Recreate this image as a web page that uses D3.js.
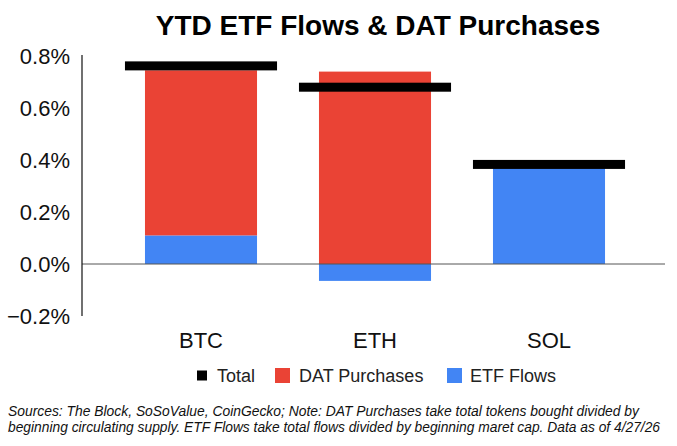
<!DOCTYPE html>
<html>
<head>
<meta charset="utf-8">
<script src="https://cdn.jsdelivr.net/npm/d3@7"></script>
<style>
  html, body { margin: 0; padding: 0; background: #fff; }
  svg { display: block; font-family: "Liberation Sans", Arial, sans-serif; }
</style>
</head>
<body>
<svg id="chart" width="677" height="446"></svg>
<script>
// ---- data ----
const categories = ["BTC", "ETH", "SOL"];
const datPurchases = [0.635, 0.74, 0.0];
const etfFlows = [0.11, -0.065, 0.37];
const totals = [0.762, 0.68, 0.383];
const yTicks = [-0.2, 0.0, 0.2, 0.4, 0.6, 0.8];
const legendLabels = ["Total", "DAT Purchases", "ETF Flows"];
const titleText = "YTD ETF Flows & DAT Purchases";
const footnoteLines = [
  "Sources: The Block, SoSoValue, CoinGecko; Note: DAT Purchases take total tokens bought divided by",
  "beginning circulating supply. ETF Flows take total flows divided by beginning maret cap. Data as of 4/27/26"
];

const colors = { total: "#000000", dat: "#EA4335", etf: "#4285F4" };

const svg = d3.select("#chart");

const rows = categories.map((c, i) => ({ cat: c, etf: etfFlows[i], dat: datPurchases[i], total: totals[i] }));

const x = d3.scaleBand().domain(categories).range([114, 636]).paddingInner(0.356).paddingOuter(0.178);
const y = d3.scaleLinear().domain([-0.2, 0.8]).range([316, 56]);

// title
svg.append("text")
  .attr("x", 378).attr("y", 35)
  .attr("text-anchor", "middle")
  .attr("font-size", 28).attr("font-weight", "bold")
  .attr("fill", "#000")
  .text(titleText);

// stacked bars
const stack = d3.stack().keys(["etf", "dat"]).offset(d3.stackOffsetDiverging);
const series = stack(rows);
const colorFor = { etf: colors.etf, dat: colors.dat };

svg.append("g").selectAll("g")
  .data(series).join("g")
  .attr("fill", d => colorFor[d.key])
  .selectAll("rect")
  .data(d => d).join("rect")
  .attr("x", d => x(d.data.cat))
  .attr("width", x.bandwidth())
  .attr("y", d => y(Math.max(d[0], d[1])))
  .attr("height", d => Math.abs(y(d[0]) - y(d[1])));

// zero baseline
svg.append("line")
  .attr("x1", 82).attr("x2", 665)
  .attr("y1", y(0)).attr("y2", y(0))
  .attr("stroke", "#555").attr("stroke-width", 1);

// y axis
const yAxis = d3.axisLeft(y).tickValues(yTicks)
  .tickFormat(d => d3.format(".1f")(d) + "%")
  .tickSize(0).tickPadding(12);
const yG = svg.append("g").attr("transform", "translate(82,0)").call(yAxis);
yG.select(".domain").attr("stroke", "#111").attr("stroke-width", 1.2).attr("d", `M0,${y(0.8) - 1}V${y(-0.2)}`);
yG.selectAll("text").attr("font-size", 22).attr("fill", "#111")
  .attr("font-family", "\"Liberation Sans\", Arial, sans-serif");

// total markers
const totalW = x.step() * 0.874;
svg.append("g").selectAll("rect")
  .data(rows).join("rect")
  .attr("x", d => x(d.cat) + x.bandwidth() / 2 - totalW / 2)
  .attr("width", totalW)
  .attr("y", d => y(d.total) - 4.5)
  .attr("height", 9)
  .attr("fill", colors.total);

// x labels
const xAxis = d3.axisBottom(x).tickSize(0).tickPadding(0);
const xG = svg.append("g").attr("transform", "translate(0,331)").call(xAxis);
xG.select(".domain").remove();
xG.selectAll("text").attr("font-size", 22).attr("fill", "#111")
  .attr("dy", "0.75em")
  .attr("font-family", "\"Liberation Sans\", Arial, sans-serif");

// legend
const legend = svg.append("g");
const legendItems = [
  { label: legendLabels[0], color: colors.total, sx: 197, sw: 10, sh: 10, tx: 217 },
  { label: legendLabels[1], color: colors.dat, sx: 275, sw: 15, sh: 15, tx: 299 },
  { label: legendLabels[2], color: colors.etf, sx: 447, sw: 15, sh: 15, tx: 470 }
];
legendItems.forEach(it => {
  legend.append("rect")
    .attr("x", it.sx).attr("y", 375.5 - it.sh / 2)
    .attr("width", it.sw).attr("height", it.sh)
    .attr("fill", it.color);
  legend.append("text")
    .attr("x", it.tx).attr("y", 382)
    .attr("font-size", 18).attr("fill", "#222")
    .text(it.label);
});

// footnote
const fnWidths = [631, 652];
footnoteLines.forEach((line, i) => {
  svg.append("text")
    .attr("x", 8).attr("y", 416 + i * 16)
    .attr("font-size", 14).attr("font-style", "italic")
    .attr("fill", "#111")
    .attr("textLength", fnWidths[i]).attr("lengthAdjust", "spacingAndGlyphs")
    .text(line);
});
</script>
</body>
</html>
